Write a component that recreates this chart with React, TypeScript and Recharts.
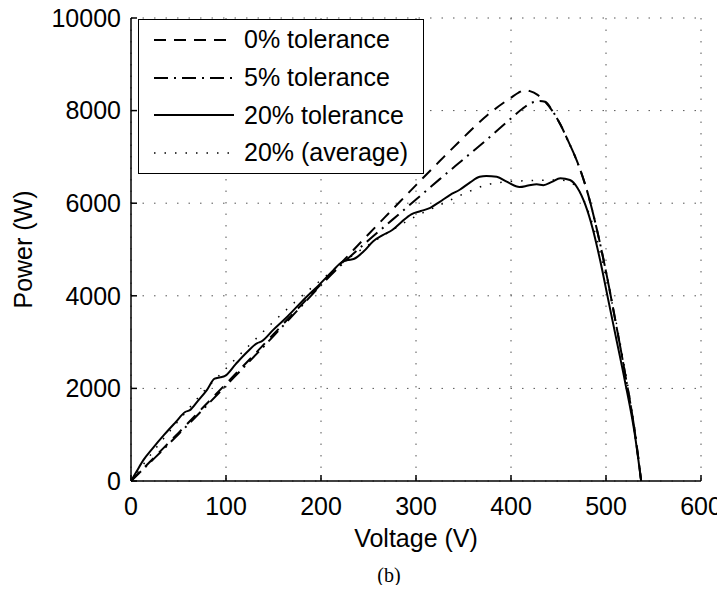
import React from "react";
import { LineChart, Line, XAxis, YAxis, CartesianGrid, Legend } from "recharts";

// Voltage / power samples (V, W)
const V0 = [0, 25, 50, 75, 100, 125, 150, 175, 200, 225, 250, 275, 300, 325, 350, 375, 400, 408, 414, 420, 428, 436, 444, 452, 460, 470, 480, 490, 500, 510, 520, 530, 537];
const P0 = [0, 520, 1040, 1570, 2100, 2630, 3170, 3710, 4250, 4790, 5330, 5860, 6390, 6910, 7420, 7900, 8280, 8390, 8440, 8420, 8340, 8190, 7980, 7700, 7350, 6880, 6270, 5470, 4520, 3450, 2330, 1110, 0];

const V5 = [0, 25, 50, 75, 100, 125, 150, 175, 200, 225, 250, 275, 300, 325, 350, 375, 400, 412, 422, 430, 436, 444, 452, 460, 470, 480, 490, 500, 510, 520, 530, 537];
const P5 = [0, 500, 1010, 1530, 2060, 2590, 3130, 3680, 4230, 4740, 5200, 5640, 6080, 6520, 6950, 7380, 7830, 8040, 8170, 8210, 8190, 7980, 7700, 7350, 6880, 6270, 5470, 4520, 3450, 2330, 1110, 0];

const V20 = [0, 6, 13, 23, 35, 47, 57, 62, 70, 80, 88, 94, 99, 110, 122, 133, 137, 150, 165, 180, 200, 212, 222, 228, 235, 245, 255, 265, 275, 285, 295, 305, 315, 325, 336, 346, 357, 367, 374, 385, 396, 409, 418, 427, 434, 443, 452, 462, 470, 478, 486, 494, 502, 510, 520, 530, 537];
const P20 = [0, 210, 450, 710, 1000, 1270, 1490, 1530, 1720, 1970, 2210, 2240, 2270, 2520, 2780, 2980, 3010, 3270, 3560, 3880, 4280, 4530, 4730, 4770, 4800, 4960, 5180, 5310, 5420, 5600, 5760, 5830, 5900, 6030, 6180, 6290, 6450, 6570, 6590, 6570, 6460, 6350, 6380, 6410, 6390, 6460, 6540, 6500, 6330, 5980, 5450, 4750, 3950, 3150, 2150, 1050, 0];

const VA = [0, 25, 50, 75, 100, 125, 150, 175, 200, 225, 250, 275, 300, 325, 350, 375, 400, 425, 450, 462, 472, 480, 490, 500, 510, 520, 530, 537];
const PA = [0, 680, 1300, 1900, 2430, 2940, 3440, 3910, 4340, 4750, 5100, 5420, 5720, 5960, 6200, 6400, 6470, 6490, 6500, 6460, 6250, 5900, 5250, 4400, 3500, 2400, 1150, 0];

const xTicks = [0, 100, 200, 300, 400, 500, 600];
const yTicks = [0, 2000, 4000, 6000, 8000, 10000];

const toRows = (v: number[], p: number[]) => v.map((x, i) => ({ v: x, p: p[i] }));

const series = [
  { name: "0% tolerance", data: toRows(V0, P0), dash: "12 8", width: 2 },
  { name: "5% tolerance", data: toRows(V5, P5), dash: "14 6 2 6", width: 2 },
  { name: "20% tolerance", data: toRows(V20, P20), dash: undefined, width: 2 },
  { name: "20% (average)", data: toRows(VA, PA), dash: "1.5 9", width: 1.5 },
];

const FONT = "'Liberation Sans', Arial, sans-serif";
const tickStyle = { fill: "#000", fontSize: 25, fontFamily: FONT };
const lineStyle = { stroke: "#000", strokeWidth: 1.5 };

const renderLegend = () => (
  <div
    style={{
      width: 286,
      height: 155,
      boxSizing: "border-box",
      border: "1.5px solid #000",
      background: "#fff",
      paddingTop: 1,
      paddingLeft: 15,
    }}
  >
    {series.map((s) => (
      <div key={s.name} style={{ display: "flex", alignItems: "center", height: 37.7 }}>
        <svg width={80} height={10}>
          <line x1={0} x2={80} y1={5} y2={5} stroke="#000" strokeWidth={s.width} strokeDasharray={s.dash} />
        </svg>
        <span style={{ marginLeft: 10, fontFamily: FONT, fontSize: 25, lineHeight: 1, color: "#000" }}>
          {s.name}
        </span>
      </div>
    ))}
  </div>
);

export default function App() {
  return (
    <div style={{ position: "relative", width: 725, height: 593, margin: -8, background: "#fff" }}>
      <LineChart width={725} height={593} margin={{ top: 18, right: 24, bottom: 32, left: 0 }} style={{ overflow: "visible" }}>
        <CartesianGrid stroke="#555" strokeDasharray="1.5 10" strokeWidth={1} />
        <XAxis
          dataKey="v"
          type="number"
          domain={[0, 600]}
          ticks={xTicks}
          allowDataOverflow
          height={80}
          axisLine={lineStyle}
          tickLine={lineStyle}
          tickSize={-6}
          tickMargin={22}
          tick={tickStyle}
          label={{
            content: (props: any) => {
              const vb = props.viewBox;
              return (
                <text x={vb.x + vb.width / 2} y={547} textAnchor="middle" fontSize={25} fontFamily={FONT} fill="#000">
                  Voltage (V)
                </text>
              );
            },
          }}
        />
        <XAxis
          xAxisId="t"
          orientation="top"
          type="number"
          dataKey="v"
          domain={[0, 600]}
          ticks={xTicks}
          height={0}
          axisLine={lineStyle}
          tickLine={lineStyle}
          tickSize={-6}
          tick={false}
        />
        <YAxis
          type="number"
          domain={[0, 10000]}
          ticks={yTicks}
          width={131}
          axisLine={lineStyle}
          tickLine={lineStyle}
          tickSize={-6}
          tickMargin={16}
          tick={tickStyle}
          label={{
            content: (props: any) => {
              const vb = props.viewBox;
              const cy = vb.y + vb.height / 2;
              return (
                <text x={32} y={cy} transform={`rotate(-90 32 ${cy})`} textAnchor="middle" fontSize={25} fontFamily={FONT} fill="#000">
                  Power (W)
                </text>
              );
            },
          }}
        />
        <YAxis
          yAxisId="r"
          orientation="right"
          type="number"
          domain={[0, 10000]}
          ticks={yTicks}
          width={0}
          axisLine={lineStyle}
          tickLine={lineStyle}
          tickSize={-6}
          tick={false}
        />
        <Legend
          layout="vertical"
          align="center"
          verticalAlign="middle"
          content={renderLegend}
          wrapperStyle={{ top: 19, left: 138, width: 286, height: 155 }}
        />
        {series.map((s) => (
          <Line
            key={s.name}
            data={s.data}
            dataKey="p"
            name={s.name}
            type="monotone"
            stroke="#000"
            strokeWidth={s.width}
            strokeDasharray={s.dash}
            dot={false}
            isAnimationActive={false}
          />
        ))}
      </LineChart>
      <div
        style={{
          position: "absolute",
          left: 389,
          top: 565,
          transform: "translateX(-50%)",
          fontFamily: "'Liberation Serif', 'Times New Roman', serif",
          fontSize: 20,
          lineHeight: "20px",
          color: "#000",
        }}
      >
        (b)
      </div>
    </div>
  );
}
